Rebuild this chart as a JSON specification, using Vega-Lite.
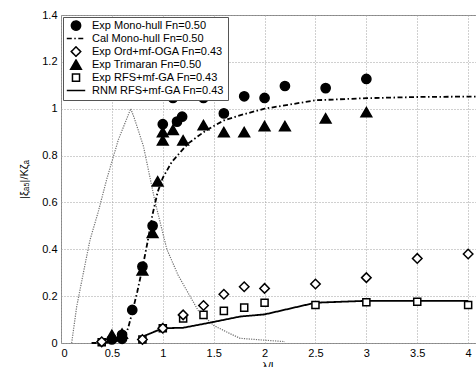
{
  "$schema": "https://vega.github.io/schema/vega-lite/v6.json",
  "width": 416,
  "height": 328,
  "autosize": {"type": "none"},
  "padding": {"left": 61, "top": 15, "right": 0, "bottom": 24},
  "background": "white",
  "config": {
    "view": {"stroke": "#888", "strokeWidth": 1},
    "font": "Liberation Sans",
    "axis": {
      "domain": false,
      "ticks": false,
      "grid": true,
      "gridColor": "#a0a0a0",
      "gridDash": [1, 2],
      "gridWidth": 1,
      "labelFont": "Liberation Sans",
      "labelFontSize": 11,
      "labelColor": "black",
      "labelPadding": 4,
      "titleFont": "Liberation Sans",
      "titleFontSize": 11,
      "titleFontWeight": "normal",
      "titleColor": "black"
    },
    "legend": {
      "orient": "top-left",
      "offset": 2,
      "padding": 3,
      "strokeColor": "#555",
      "fillColor": "white",
      "labelFont": "Liberation Sans",
      "labelFontSize": 11,
      "labelColor": "black",
      "labelLimit": 300,
      "labelOffset": 6,
      "rowPadding": 0,
      "clipHeight": 11.2,
      "symbolStrokeColor": "black",
      "symbolStrokeWidth": 1.5,
      "symbolOpacity": 1,
      "cornerRadius": 0
    }
  },
  "datasets": {
    "spec": [
      {"x": 0.105, "y": 0}, {"x": 0.154, "y": 0.155}, {"x": 0.22, "y": 0.3}, {"x": 0.285, "y": 0.44},
      {"x": 0.366, "y": 0.56}, {"x": 0.45, "y": 0.7}, {"x": 0.563, "y": 0.867}, {"x": 0.63, "y": 0.94},
      {"x": 0.685, "y": 1.0}, {"x": 0.72, "y": 0.96}, {"x": 0.81, "y": 0.84}, {"x": 0.923, "y": 0.605},
      {"x": 1.04, "y": 0.4}, {"x": 1.15, "y": 0.29}, {"x": 1.267, "y": 0.2}, {"x": 1.35, "y": 0.137},
      {"x": 1.5, "y": 0.075}, {"x": 1.66, "y": 0.04}, {"x": 1.76, "y": 0.02}, {"x": 2.0, "y": 0.012},
      {"x": 2.2, "y": 0.006}
    ],
    "lines": [
      {"series": "Cal Mono-hull Fn=0.50", "x": 0.3, "y": 0},
      {"series": "Cal Mono-hull Fn=0.50", "x": 0.4, "y": 0.0},
      {"series": "Cal Mono-hull Fn=0.50", "x": 0.5, "y": 0.003},
      {"series": "Cal Mono-hull Fn=0.50", "x": 0.6, "y": 0.015},
      {"series": "Cal Mono-hull Fn=0.50", "x": 0.63, "y": 0.03},
      {"series": "Cal Mono-hull Fn=0.50", "x": 0.66, "y": 0.065},
      {"series": "Cal Mono-hull Fn=0.50", "x": 0.7, "y": 0.13},
      {"series": "Cal Mono-hull Fn=0.50", "x": 0.75, "y": 0.22},
      {"series": "Cal Mono-hull Fn=0.50", "x": 0.8, "y": 0.32},
      {"series": "Cal Mono-hull Fn=0.50", "x": 0.85, "y": 0.43},
      {"series": "Cal Mono-hull Fn=0.50", "x": 0.9, "y": 0.55},
      {"series": "Cal Mono-hull Fn=0.50", "x": 0.95, "y": 0.645},
      {"series": "Cal Mono-hull Fn=0.50", "x": 1.0, "y": 0.705},
      {"series": "Cal Mono-hull Fn=0.50", "x": 1.09, "y": 0.774},
      {"series": "Cal Mono-hull Fn=0.50", "x": 1.25, "y": 0.852},
      {"series": "Cal Mono-hull Fn=0.50", "x": 1.43, "y": 0.909},
      {"series": "Cal Mono-hull Fn=0.50", "x": 1.6, "y": 0.95},
      {"series": "Cal Mono-hull Fn=0.50", "x": 1.8, "y": 0.977},
      {"series": "Cal Mono-hull Fn=0.50", "x": 2.0, "y": 1.0},
      {"series": "Cal Mono-hull Fn=0.50", "x": 2.5, "y": 1.036},
      {"series": "Cal Mono-hull Fn=0.50", "x": 3.0, "y": 1.045},
      {"series": "Cal Mono-hull Fn=0.50", "x": 3.5, "y": 1.05},
      {"series": "Cal Mono-hull Fn=0.50", "x": 4.087, "y": 1.052},
      {"series": "RNM RFS+mf-GA Fn=0.43", "x": 0.8, "y": 0.027},
      {"series": "RNM RFS+mf-GA Fn=0.43", "x": 1.0, "y": 0.063},
      {"series": "RNM RFS+mf-GA Fn=0.43", "x": 1.2, "y": 0.065},
      {"series": "RNM RFS+mf-GA Fn=0.43", "x": 1.5, "y": 0.09},
      {"series": "RNM RFS+mf-GA Fn=0.43", "x": 1.76, "y": 0.113},
      {"series": "RNM RFS+mf-GA Fn=0.43", "x": 2.0, "y": 0.122},
      {"series": "RNM RFS+mf-GA Fn=0.43", "x": 2.5, "y": 0.172},
      {"series": "RNM RFS+mf-GA Fn=0.43", "x": 3.0, "y": 0.18},
      {"series": "RNM RFS+mf-GA Fn=0.43", "x": 3.5, "y": 0.18},
      {"series": "RNM RFS+mf-GA Fn=0.43", "x": 4.0, "y": 0.18}
    ],
    "pts": [
      {"series": "Exp Mono-hull Fn=0.50", "x": 0.5, "y": 0.015},
      {"series": "Exp Mono-hull Fn=0.50", "x": 0.6, "y": 0.018},
      {"series": "Exp Mono-hull Fn=0.50", "x": 0.6, "y": 0.035},
      {"series": "Exp Mono-hull Fn=0.50", "x": 0.7, "y": 0.141},
      {"series": "Exp Mono-hull Fn=0.50", "x": 0.8, "y": 0.326},
      {"series": "Exp Mono-hull Fn=0.50", "x": 0.9, "y": 0.5},
      {"series": "Exp Mono-hull Fn=0.50", "x": 1.0, "y": 0.934},
      {"series": "Exp Mono-hull Fn=0.50", "x": 1.1, "y": 1.046},
      {"series": "Exp Mono-hull Fn=0.50", "x": 1.14, "y": 0.945},
      {"series": "Exp Mono-hull Fn=0.50", "x": 1.19, "y": 0.966},
      {"series": "Exp Mono-hull Fn=0.50", "x": 1.4, "y": 1.046},
      {"series": "Exp Mono-hull Fn=0.50", "x": 1.6, "y": 0.98},
      {"series": "Exp Mono-hull Fn=0.50", "x": 1.8, "y": 1.053},
      {"series": "Exp Mono-hull Fn=0.50", "x": 2.0, "y": 1.046},
      {"series": "Exp Mono-hull Fn=0.50", "x": 2.2, "y": 1.097},
      {"series": "Exp Mono-hull Fn=0.50", "x": 2.6, "y": 1.088},
      {"series": "Exp Mono-hull Fn=0.50", "x": 3.0, "y": 1.127},
      {"series": "Exp Trimaran Fn=0.50", "x": 0.5, "y": 0.035},
      {"series": "Exp Trimaran Fn=0.50", "x": 0.6, "y": 0.04},
      {"series": "Exp Trimaran Fn=0.50", "x": 0.8, "y": 0.31},
      {"series": "Exp Trimaran Fn=0.50", "x": 0.9, "y": 0.47},
      {"series": "Exp Trimaran Fn=0.50", "x": 0.95, "y": 0.69},
      {"series": "Exp Trimaran Fn=0.50", "x": 1.0, "y": 0.9},
      {"series": "Exp Trimaran Fn=0.50", "x": 1.0, "y": 0.865},
      {"series": "Exp Trimaran Fn=0.50", "x": 1.1, "y": 0.91},
      {"series": "Exp Trimaran Fn=0.50", "x": 1.2, "y": 0.865},
      {"series": "Exp Trimaran Fn=0.50", "x": 1.4, "y": 0.93},
      {"series": "Exp Trimaran Fn=0.50", "x": 1.6, "y": 0.9},
      {"series": "Exp Trimaran Fn=0.50", "x": 1.8, "y": 0.9},
      {"series": "Exp Trimaran Fn=0.50", "x": 2.0, "y": 0.926},
      {"series": "Exp Trimaran Fn=0.50", "x": 2.2, "y": 0.926},
      {"series": "Exp Trimaran Fn=0.50", "x": 2.6, "y": 0.959},
      {"series": "Exp Trimaran Fn=0.50", "x": 3.0, "y": 0.985},
      {"series": "Exp RFS+mf-GA Fn=0.43", "x": 0.4, "y": 0.003},
      {"series": "Exp RFS+mf-GA Fn=0.43", "x": 0.8, "y": 0.015},
      {"series": "Exp RFS+mf-GA Fn=0.43", "x": 1.0, "y": 0.063},
      {"series": "Exp RFS+mf-GA Fn=0.43", "x": 1.2, "y": 0.105},
      {"series": "Exp RFS+mf-GA Fn=0.43", "x": 1.4, "y": 0.12},
      {"series": "Exp RFS+mf-GA Fn=0.43", "x": 1.6, "y": 0.137},
      {"series": "Exp RFS+mf-GA Fn=0.43", "x": 1.8, "y": 0.151},
      {"series": "Exp RFS+mf-GA Fn=0.43", "x": 2.0, "y": 0.172},
      {"series": "Exp RFS+mf-GA Fn=0.43", "x": 2.5, "y": 0.162},
      {"series": "Exp RFS+mf-GA Fn=0.43", "x": 3.0, "y": 0.174},
      {"series": "Exp RFS+mf-GA Fn=0.43", "x": 3.5, "y": 0.176},
      {"series": "Exp RFS+mf-GA Fn=0.43", "x": 4.0, "y": 0.162},
      {"series": "Exp Ord+mf-OGA Fn=0.43", "x": 0.4, "y": 0.005},
      {"series": "Exp Ord+mf-OGA Fn=0.43", "x": 0.8, "y": 0.015},
      {"series": "Exp Ord+mf-OGA Fn=0.43", "x": 1.0, "y": 0.063},
      {"series": "Exp Ord+mf-OGA Fn=0.43", "x": 1.2, "y": 0.12},
      {"series": "Exp Ord+mf-OGA Fn=0.43", "x": 1.4, "y": 0.16},
      {"series": "Exp Ord+mf-OGA Fn=0.43", "x": 1.6, "y": 0.208},
      {"series": "Exp Ord+mf-OGA Fn=0.43", "x": 1.8, "y": 0.24},
      {"series": "Exp Ord+mf-OGA Fn=0.43", "x": 2.0, "y": 0.233},
      {"series": "Exp Ord+mf-OGA Fn=0.43", "x": 2.5, "y": 0.252},
      {"series": "Exp Ord+mf-OGA Fn=0.43", "x": 3.0, "y": 0.279},
      {"series": "Exp Ord+mf-OGA Fn=0.43", "x": 3.5, "y": 0.361},
      {"series": "Exp Ord+mf-OGA Fn=0.43", "x": 4.0, "y": 0.38}
    ]
  },
  "layer": [
    {
      "data": {"name": "spec"},
      "mark": {"type": "line", "stroke": "#707070", "strokeWidth": 1.2, "strokeDash": [1.2, 1.2]},
      "encoding": {
        "x": {
          "field": "x", "type": "quantitative",
          "scale": {"domain": [0, 4.087], "nice": false, "zero": false},
          "axis": {"values": [0, 0.5, 1, 1.5, 2, 2.5, 3, 3.5, 4], "format": "~g", "title": "λ/L", "titlePadding": 2}
        },
        "y": {
          "field": "y", "type": "quantitative",
          "scale": {"domain": [0, 1.4], "nice": false},
          "axis": {"values": [0, 0.2, 0.4, 0.6, 0.8, 1, 1.2, 1.4], "format": "~g", "title": "|ξₐ₅|/Kζₐ", "titlePadding": 12}
        }
      }
    },
    {
      "data": {"name": "lines"},
      "mark": {"type": "line", "stroke": "black", "strokeWidth": 1.8},
      "encoding": {
        "x": {"field": "x", "type": "quantitative"},
        "y": {"field": "y", "type": "quantitative"},
        "strokeDash": {
          "field": "series", "type": "nominal",
          "scale": {
            "domain": ["Exp Mono-hull Fn=0.50", "Cal Mono-hull Fn=0.50", "Exp Ord+mf-OGA Fn=0.43", "Exp Trimaran Fn=0.50", "Exp RFS+mf-GA Fn=0.43", "RNM RFS+mf-GA Fn=0.43"],
            "range": [[1, 0], [5, 2.5, 1.5, 2.5], [1, 0], [1, 0], [1, 0], [1, 0]]
          },
          "legend": {"title": null, "encode": {"symbols": {"update": {"stroke": {"value": "black"}, "strokeWidth": {"value": 1.5}, "opacity": {"value": 1}}}}}
        }
      }
    },
    {
      "data": {"name": "pts"},
      "mark": {"type": "point", "stroke": "black", "strokeWidth": 1.5, "opacity": 1},
      "encoding": {
        "x": {"field": "x", "type": "quantitative"},
        "y": {"field": "y", "type": "quantitative"},
        "shape": {
          "field": "series", "type": "nominal",
          "scale": {
            "domain": ["Exp Mono-hull Fn=0.50", "Cal Mono-hull Fn=0.50", "Exp Ord+mf-OGA Fn=0.43", "Exp Trimaran Fn=0.50", "Exp RFS+mf-GA Fn=0.43", "RNM RFS+mf-GA Fn=0.43"],
            "range": ["circle", "stroke", "diamond", "triangle-up", "square", "stroke"]
          },
          "legend": {"title": null, "encode": {"symbols": {"update": {"stroke": {"value": "black"}, "strokeWidth": {"value": 1.5}, "opacity": {"value": 1}}}}}
        },
        "fill": {
          "field": "series", "type": "nominal",
          "scale": {
            "domain": ["Exp Mono-hull Fn=0.50", "Cal Mono-hull Fn=0.50", "Exp Ord+mf-OGA Fn=0.43", "Exp Trimaran Fn=0.50", "Exp RFS+mf-GA Fn=0.43", "RNM RFS+mf-GA Fn=0.43"],
            "range": ["black", "black", "white", "black", "white", "black"]
          },
          "legend": {"title": null, "encode": {"symbols": {"update": {"stroke": {"value": "black"}, "strokeWidth": {"value": 1.5}, "opacity": {"value": 1}}}}}
        },
        "size": {
          "field": "series", "type": "nominal",
          "scale": {
            "type": "ordinal",
            "domain": ["Exp Mono-hull Fn=0.50", "Cal Mono-hull Fn=0.50", "Exp Ord+mf-OGA Fn=0.43", "Exp Trimaran Fn=0.50", "Exp RFS+mf-GA Fn=0.43", "RNM RFS+mf-GA Fn=0.43"],
            "range": [85, 340, 90, 115, 50, 340]
          },
          "legend": {"title": null, "encode": {"symbols": {"update": {"stroke": {"value": "black"}, "strokeWidth": {"value": 1.5}, "opacity": {"value": 1}}}}}
        }
      }
    }
  ]
}
